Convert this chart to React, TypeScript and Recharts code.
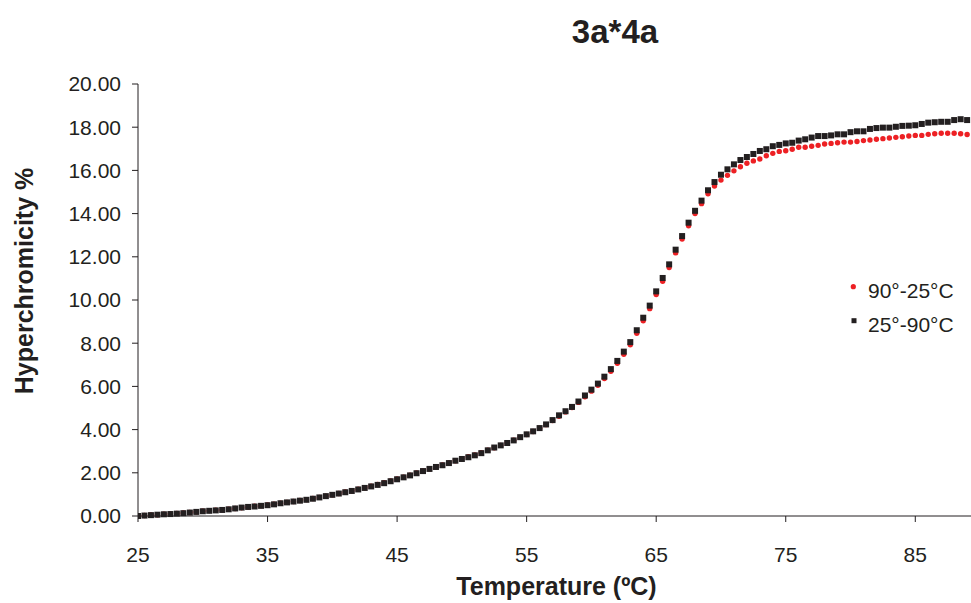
import { Label, Legend, Scatter, ScatterChart, XAxis, YAxis } from "recharts";

const FONT = "'Liberation Sans', Arial, Helvetica, sans-serif";
const INK = "#231f20";
const RED = "#ed2024";

// temperature grid (°C)
const temps = [
  25, 25.5, 26, 26.5, 27, 27.5, 28, 28.5, 29, 29.5,
  30, 30.5, 31, 31.5, 32, 32.5, 33, 33.5, 34, 34.5,
  35, 35.5, 36, 36.5, 37, 37.5, 38, 38.5, 39, 39.5,
  40, 40.5, 41, 41.5, 42, 42.5, 43, 43.5, 44, 44.5,
  45, 45.5, 46, 46.5, 47, 47.5, 48, 48.5, 49, 49.5,
  50, 50.5, 51, 51.5, 52, 52.5, 53, 53.5, 54, 54.5,
  55, 55.5, 56, 56.5, 57, 57.5, 58, 58.5, 59, 59.5,
  60, 60.5, 61, 61.5, 62, 62.5, 63, 63.5, 64, 64.5,
  65, 65.5, 66, 66.5, 67, 67.5, 68, 68.5, 69, 69.5,
  70, 70.5, 71, 71.5, 72, 72.5, 73, 73.5, 74, 74.5,
  75, 75.5, 76, 76.5, 77, 77.5, 78, 78.5, 79, 79.5,
  80, 80.5, 81, 81.5, 82, 82.5, 83, 83.5, 84, 84.5,
  85, 85.5, 86, 86.5, 87, 87.5, 88, 88.5, 89,
];

// 90°-25°C (red dots)
const cooling = [
  0.01, 0.02, 0.05, 0.06, 0.08, 0.1, 0.12, 0.14, 0.16, 0.19,
  0.22, 0.25, 0.27, 0.29, 0.32, 0.35, 0.38, 0.42, 0.45, 0.48,
  0.51, 0.55, 0.59, 0.63, 0.67, 0.72, 0.76, 0.81, 0.86, 0.92,
  0.98, 1.04, 1.11, 1.17, 1.24, 1.31, 1.38, 1.46, 1.54, 1.62,
  1.71, 1.8, 1.89, 1.99, 2.09, 2.18, 2.27, 2.36, 2.46, 2.56,
  2.65, 2.74, 2.83, 2.93, 3.05, 3.16, 3.27, 3.39, 3.51, 3.64,
  3.77, 3.91, 4.06, 4.23, 4.42, 4.62, 4.82, 5.02, 5.26, 5.52,
  5.78, 6.05, 6.36, 6.7, 7.07, 7.49, 7.93, 8.46, 9.04, 9.6,
  10.25, 10.87, 11.5, 12.18, 12.82, 13.44, 14.0, 14.46, 14.92, 15.28,
  15.55, 15.77, 15.98, 16.17, 16.33, 16.44, 16.53, 16.68, 16.79, 16.88,
  16.91, 16.98, 17.07, 17.07, 17.12, 17.16, 17.22, 17.25, 17.28, 17.31,
  17.31, 17.34, 17.38, 17.41, 17.44, 17.47, 17.5, 17.53, 17.56, 17.59,
  17.62, 17.62, 17.67, 17.7, 17.72, 17.72, 17.72, 17.7, 17.66,
];

// 25°-90°C (black squares)
const heating = [
  0.0, 0.02, 0.04, 0.06, 0.08, 0.09, 0.11, 0.13, 0.16, 0.19,
  0.22, 0.24, 0.26, 0.28, 0.31, 0.35, 0.39, 0.42, 0.44, 0.47,
  0.5, 0.54, 0.59, 0.63, 0.67, 0.71, 0.75, 0.8, 0.86, 0.92,
  0.98, 1.04, 1.1, 1.16, 1.23, 1.3, 1.37, 1.44, 1.52, 1.61,
  1.7, 1.79, 1.88, 1.98, 2.08, 2.18, 2.27, 2.35, 2.45, 2.56,
  2.64, 2.72, 2.81, 2.91, 3.04, 3.17, 3.27, 3.38, 3.5, 3.65,
  3.78, 3.92, 4.07, 4.24, 4.44, 4.66, 4.85, 5.05, 5.3, 5.58,
  5.85, 6.13, 6.45, 6.8, 7.18, 7.61, 8.05, 8.6, 9.18, 9.74,
  10.4, 11.02, 11.65, 12.33, 12.96, 13.58, 14.13, 14.6, 15.08, 15.46,
  15.8, 16.05, 16.28, 16.48, 16.62, 16.76, 16.9, 16.98, 17.12, 17.18,
  17.25, 17.28, 17.38, 17.44, 17.52, 17.59, 17.59, 17.62, 17.67, 17.67,
  17.77, 17.81, 17.81, 17.92, 17.96, 17.98, 17.98, 18.02, 18.06, 18.07,
  18.09, 18.15, 18.21, 18.23, 18.25, 18.25, 18.33, 18.37, 18.33,
];

const xTicks = [25, 35, 45, 55, 65, 75, 85];
const yTicks = [0, 2, 4, 6, 8, 10, 12, 14, 16, 18, 20];
const seriesNames = ["90°-25°C", "25°-90°C"];

const toPoints = (vals: number[]) => temps.map((t, i) => ({ t, v: vals[i] }));

const RedDot = (p: any) => <circle cx={p.cx} cy={p.cy} r={2.7} fill={RED} />;
const BlackSquare = (p: any) => (
  <rect x={p.cx - 3} y={p.cy - 3} width={6} height={6} fill={INK} />
);

function LegendBox() {
  return (
    <div style={{ fontFamily: FONT, fontSize: 21, color: INK, whiteSpace: "nowrap" }}>
      {seriesNames.map((name, i) => (
        <div key={name} style={{ display: "flex", height: 34, lineHeight: "34px" }}>
          <svg width={22} height={34} style={{ flex: "none" }}>
            {i === 0 ? (
              <circle cx={7.3} cy={12.7} r={2.6} fill={RED} />
            ) : (
              <rect x={5.5} y={10.2} width={5} height={5} fill={INK} />
            )}
          </svg>
          <span>{name}</span>
        </div>
      ))}
    </div>
  );
}

const tickStyle = { fill: INK, fontSize: 21, fontFamily: FONT };

export default function App() {
  return (
    <div
      style={{
        position: "absolute",
        left: 0,
        top: 0,
        width: 971,
        height: 603,
        background: "#fff",
        fontFamily: FONT,
      }}
    >
      <div
        style={{
          position: "absolute",
          left: 515,
          top: 15,
          width: 200,
          textAlign: "center",
          fontSize: 33,
          lineHeight: "33px",
          fontWeight: "bold",
          color: INK,
        }}
      >
        3a*4a
      </div>
      <ScatterChart
        width={971}
        height={603}
        margin={{ top: 84, right: 0, bottom: 0, left: 0 }}
      >
        <XAxis
          type="number"
          dataKey="t"
          domain={[25, 89.3]}
          ticks={xTicks}
          allowDataOverflow
          height={87}
          stroke={INK}
          tickSize={6}
          tickMargin={25}
          tick={tickStyle}
        >
          <Label
            content={(props: any) => {
              const vb = props.viewBox;
              return (
                <text
                  x={vb.x + vb.width / 2 + 2}
                  y={vb.y + 79}
                  textAnchor="middle"
                  fontFamily={FONT}
                  fontSize={25}
                  fontWeight="bold"
                  fill={INK}
                >
                  Temperature (ºC)
                </text>
              );
            }}
          />
        </XAxis>
        <YAxis
          type="number"
          dataKey="v"
          domain={[0, 20]}
          ticks={yTicks}
          width={138}
          stroke={INK}
          tickSize={6}
          tickMargin={11}
          tick={tickStyle}
          tickFormatter={(v: number) => v.toFixed(2)}
        >
          <Label
            content={() => (
              <text
                x={33}
                y={281}
                transform="rotate(-90, 33, 281)"
                textAnchor="middle"
                fontFamily={FONT}
                fontSize={25}
                fontWeight="bold"
                fill={INK}
              >
                Hyperchromicity %
              </text>
            )}
          />
        </YAxis>
        <Legend
          layout="vertical"
          align="center"
          verticalAlign="middle"
          wrapperStyle={{ left: 846, top: 274, width: 125 }}
          content={() => <LegendBox />}
        />
        <Scatter
          name={seriesNames[0]}
          data={toPoints(cooling)}
          fill={RED}
          shape={RedDot}
          isAnimationActive={false}
        />
        <Scatter
          name={seriesNames[1]}
          data={toPoints(heating)}
          fill={INK}
          shape={BlackSquare}
          isAnimationActive={false}
        />
      </ScatterChart>
    </div>
  );
}
